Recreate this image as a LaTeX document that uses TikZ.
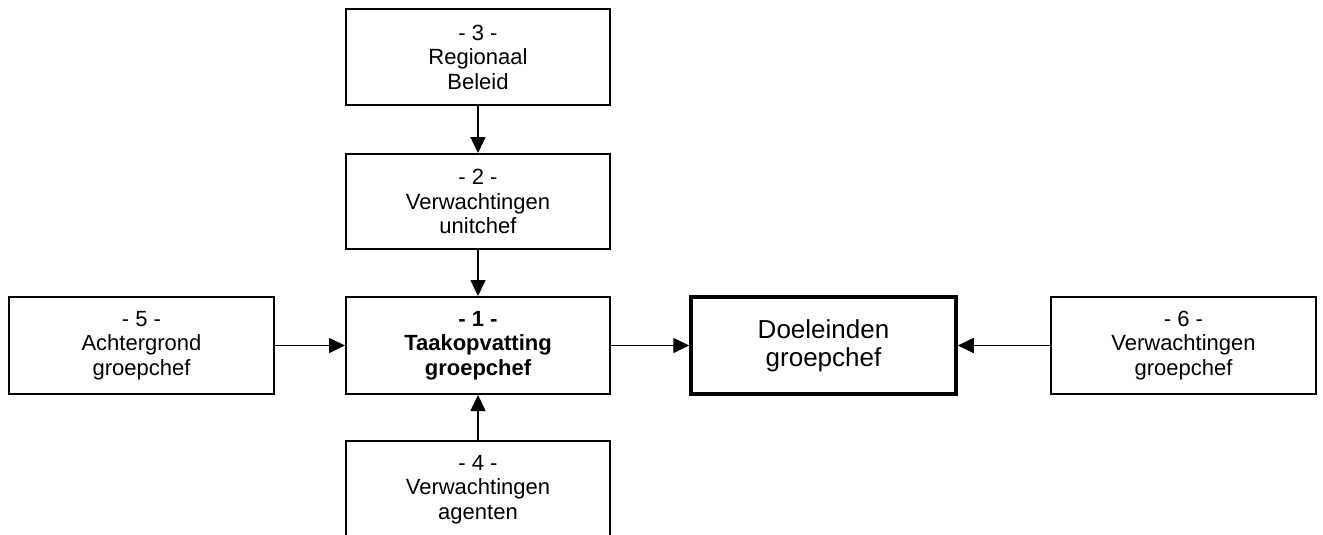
\documentclass[tikz,border=0pt]{standalone}
\usepackage{fontspec}
\setmainfont{Liberation Sans}
\usetikzlibrary{arrows.meta}
\begin{document}
\begin{tikzpicture}[x=1pt,y=-1pt,
  box/.style={draw,line width=2pt,rectangle,minimum width=264pt,minimum height=96pt,
    inner sep=0pt,align=center,font=\fontsize{22}{24.5}\selectfont},
  goalbox/.style={box,line width=3.5pt,font=\fontsize{26}{28}\selectfont},
  arr/.style={line width=1.6pt,-{Triangle[length=16pt,width=15pt]}}]
\useasboundingbox (0,0) rectangle (1323,535);
\clip (0,0) rectangle (1323,535);
\node[box] (b3) at (478,57) {- 3 -\\Regionaal\\Beleid};
\node[box,minimum height=95pt] (b2) at (478,201.5) {- 2 -\\Verwachtingen\\unitchef};
\node[box,minimum height=97pt,font=\fontsize{22}{24.5}\selectfont\bfseries] (b1) at (478,345.5) {- 1 -\\Taakopvatting\\groepchef};
\node[box,minimum height=97pt] (b4) at (478,489.5) {- 4 -\\Verwachtingen\\agenten};
\node[box,minimum height=97pt,minimum width=265pt] (b5) at (141.5,345.5) {- 5 -\\Achtergrond\\groepchef};
\node[goalbox,minimum height=97pt,minimum width=265pt] (doel) at (823.5,345.5) {Doeleinden\\groepchef};
\node[box,minimum height=97pt,minimum width=265pt] (b6) at (1183.5,345.5) {- 6 -\\Verwachtingen\\groepchef};
\draw[arr] (b3) -- (b2);
\draw[arr] (b2) -- (b1);
\draw[arr] (b4) -- (b1);
\draw[arr] (b5) -- (b1);
\draw[arr] (b1) -- (doel);
\draw[arr] (b6) -- (doel);
\end{tikzpicture}
\end{document}
